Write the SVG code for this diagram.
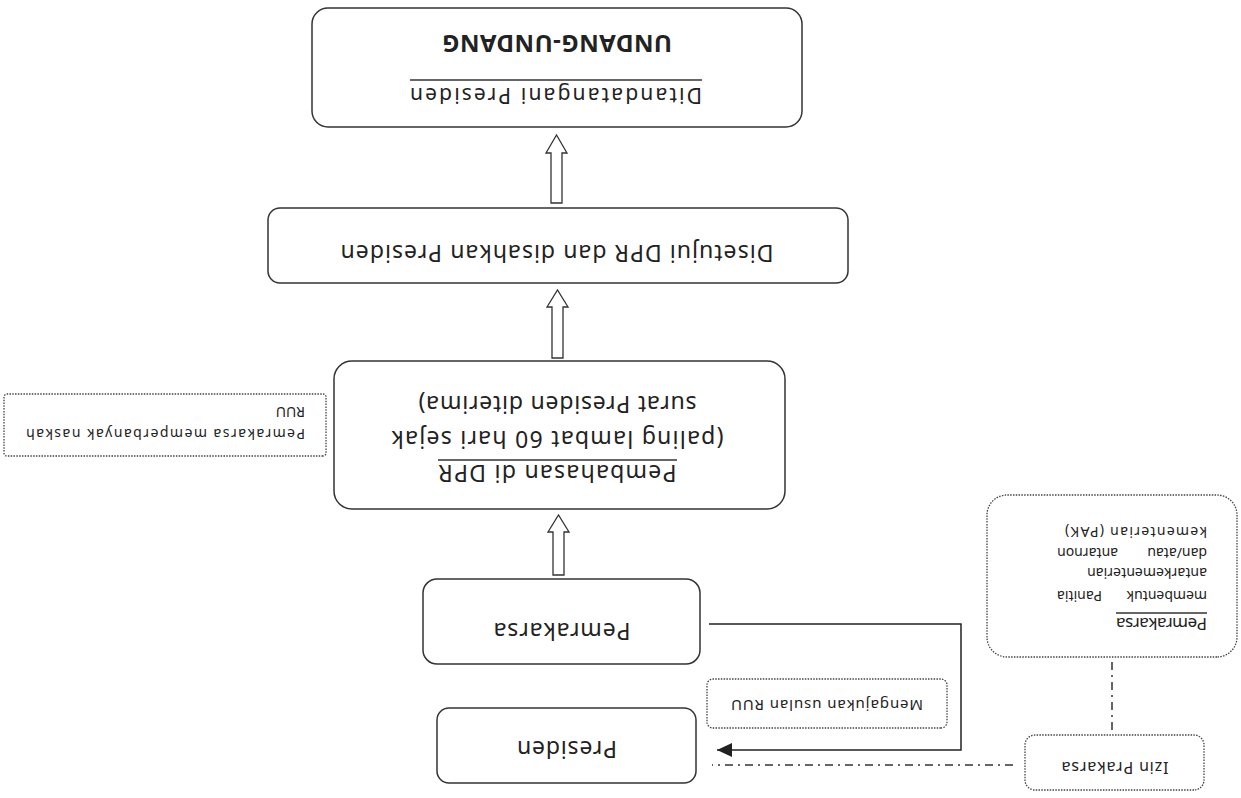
<svg xmlns="http://www.w3.org/2000/svg" width="1241" height="798" viewBox="0 0 1241 798">
<style>
  .box { fill: #fff; stroke: #333; stroke-width: 1.5; }
  .dot { fill: #fff; stroke: #444; stroke-width: 1.3; stroke-dasharray: 1.5 1.3; }
  .t { font-family: "Noto Sans", "DejaVu Sans", sans-serif; fill: #222; }
  .big { font-size: 23px; text-anchor: middle; }
  .bold { font-weight: bold; }
  .sm { font-size: 14px; }
  .mid { text-anchor: middle; }
  .ul { stroke: #333; stroke-width: 1.4; }
  .conn { fill: none; stroke: #222; stroke-width: 1.5; }
  .dd { fill: none; stroke: #333; stroke-width: 1.5; stroke-dasharray: 8 5 2 5; }
  .hollow { fill: #fff; stroke: #333; stroke-width: 1.3; stroke-linejoin: miter; }
</style>
<defs>
  <marker id="ah" markerUnits="userSpaceOnUse" markerWidth="16" markerHeight="14" refX="15" refY="7" orient="auto">
    <path d="M0,0 L15,7 L0,14 Z" fill="#222"/>
  </marker>
</defs>
<rect width="1241" height="798" fill="#fff"/>
<g transform="rotate(180 620.5 399)">
  <g id="connectors">
    <path class="hollow" d="M679,595 L679,645 L674,645 L684.5,663 L695,645 L690,645 L690,595 Z"/>
    <path class="hollow" d="M678,440 L678,491 L673,491 L683.5,508 L694,491 L689,491 L689,440 Z"/>
    <path class="hollow" d="M677,223 L677,266 L672,266 L682.5,283 L693,266 L688,266 L688,223 Z"/>
    <path class="conn" d="M532,174 H280 V48 H524" marker-end="url(#ah)"/>
    <path class="dd" d="M228,33 H529"/>
    <path class="dd" d="M129,68 V141"/>
  </g>
  <g id="node-uu">
    <rect class="box" x="439" y="671" width="490" height="119" rx="16"/>
    <text class="t big" x="685" y="710" textLength="292" lengthAdjust="spacing" style="font-size:21px">Ditandatangani Presiden</text>
    <line class="ul" x1="539" y1="718" x2="831" y2="718"/>
    <text class="t big bold" x="684" y="763" textLength="230" lengthAdjust="spacing" style="font-size:24px">UNDANG-UNDANG</text>
  </g>
  <g id="node-disetujui">
    <rect class="box" x="393" y="515" width="580" height="75" rx="12"/>
    <text class="t big" x="684" y="553" textLength="433" lengthAdjust="spacing">Disetujui DPR dan disahkan Presiden</text>
  </g>
  <g id="node-pembahasan">
    <rect class="box" x="456" y="289" width="451" height="148" rx="18"/>
    <text class="t big" x="683.5" y="333" textLength="238" lengthAdjust="spacing">Pembahasan di DPR</text>
    <line class="ul" x1="564" y1="338" x2="803" y2="338"/>
    <text class="t big" x="683.5" y="367" textLength="332" lengthAdjust="spacing">(paling lambat 60 hari sejak</text>
    <text class="t big" x="683.5" y="402" textLength="278" lengthAdjust="spacing">surat Presiden diterima)</text>
  </g>
  <g id="node-naskah">
    <rect class="dot" x="915" y="342" width="322" height="62" rx="3"/>
    <text class="t sm" x="936" y="369" textLength="279" lengthAdjust="spacing">Pemrakarsa memperbanyak naskah</text>
    <text class="t sm" x="936" y="391">RUU</text>
  </g>
  <g id="node-pemrakarsa">
    <rect class="box" x="541" y="134" width="277" height="85" rx="14"/>
    <text class="t big" x="679" y="175" textLength="137" lengthAdjust="spacing">Pemrakarsa</text>
  </g>
  <g id="node-presiden">
    <rect class="box" x="545" y="15" width="259" height="75" rx="12"/>
    <text class="t big" x="674" y="57" textLength="100" lengthAdjust="spacing">Presiden</text>
  </g>
  <g id="node-mengajukan">
    <rect class="dot" x="294" y="70" width="240" height="49" rx="6"/>
    <text class="t mid" x="414" y="98" style="font-size:15px" textLength="192" lengthAdjust="spacing">Mengajukan usulan  RUU</text>
  </g>
  <g id="node-izin">
    <rect class="dot" x="37" y="8" width="179" height="55" rx="10"/>
    <text class="t mid" x="126" y="36" style="font-size:16px" textLength="107" lengthAdjust="spacing">Izin Prakarsa</text>
  </g>
  <g id="node-pak">
    <rect class="dot" x="4" y="141" width="250" height="162" rx="20"/>
    <text class="t" x="34" y="180" style="font-size:17px" textLength="91" lengthAdjust="spacing">Pemrakarsa</text>
    <line class="ul" x1="34" y1="185" x2="125" y2="185"/>
    <text class="t sm"><tspan x="34" y="207">membentuk</tspan> <tspan x="184" y="207" text-anchor="end">Panitia</tspan></text>
    <text class="t sm" x="34" y="230" textLength="120" lengthAdjust="spacing">antarkementerian</text>
    <text class="t sm"><tspan x="34" y="250">dan/atau</tspan> <tspan x="184" y="250" text-anchor="end">antarnon</tspan></text>
    <text class="t sm" x="34" y="271" textLength="142" lengthAdjust="spacing">kementerian (PAK)</text>
  </g>
</g>
</svg>
